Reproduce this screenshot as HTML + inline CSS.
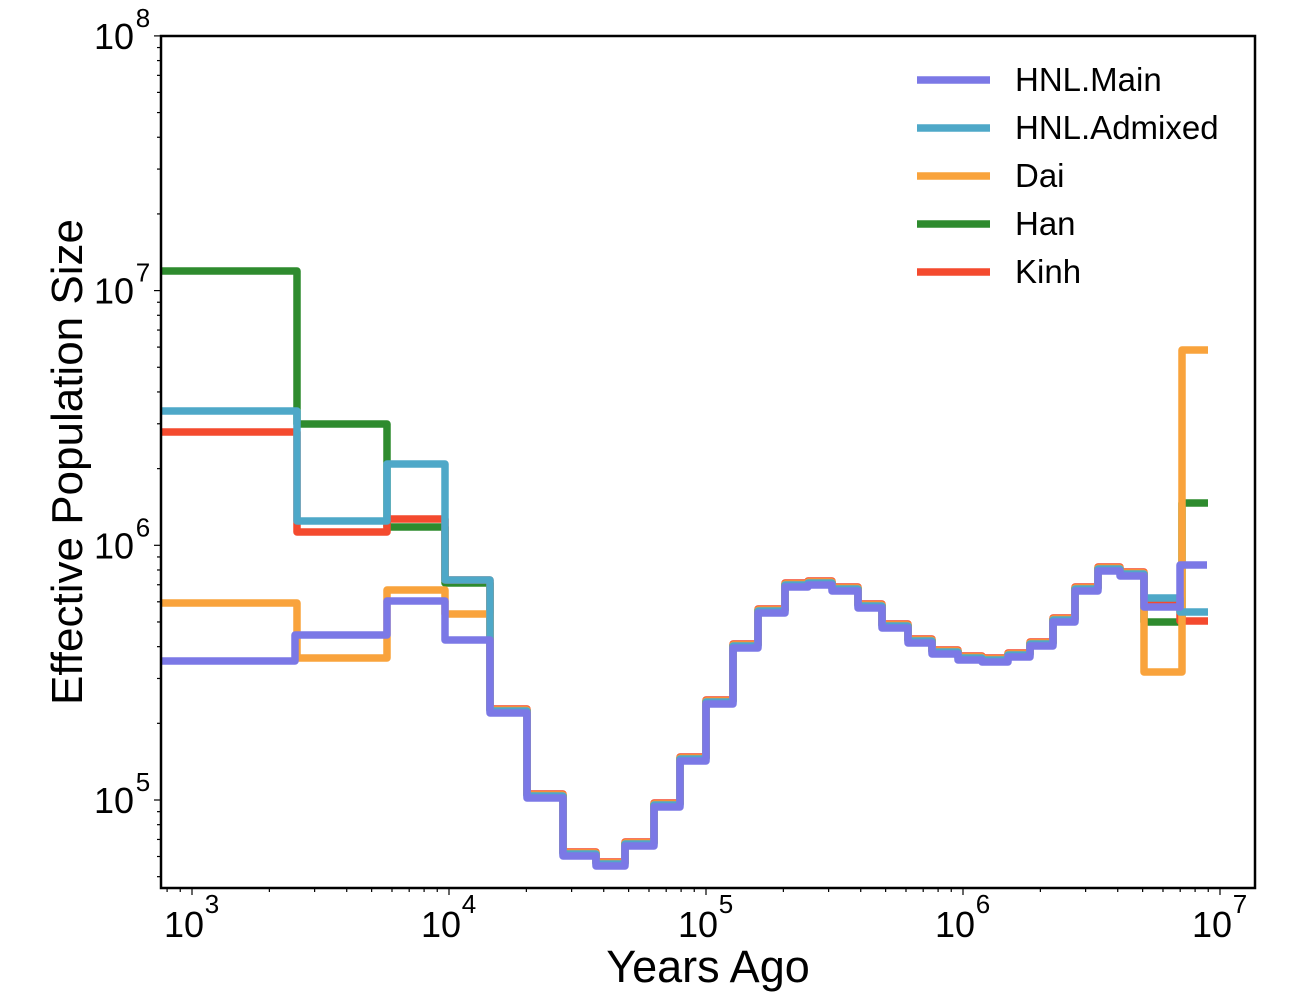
<!DOCTYPE html>
<html><head><meta charset="utf-8"><style>
body{margin:0;background:#fff;}
svg{display:block;font-family:"Liberation Sans",Arial,sans-serif;}
</style></head><body>
<svg id="s" width="1292" height="996" xmlns="http://www.w3.org/2000/svg"></svg>
<script>
const s=document.getElementById('s');
let h='';
const X=v=>192+257*(Math.log10(v)-3);
const Y=v=>800-254.7*(Math.log10(v)-5);
const L=161,R=1255,T=36,B=888;
for(let e=2;e<8;e++)for(let m=1;m<10;m++){const x=X(m*Math.pow(10,e));if(x<L||x>R)continue;
 h+=`<line x1="${x}" y1="${B}" x2="${x}" y2="${B+(m==1?7:4)}" stroke="#000" stroke-width="1.2"/>`;}
for(let e=4;e<9;e++)for(let m=1;m<10;m++){const y=Y(m*Math.pow(10,e));if(y<T-1||y>B)continue;
 h+=`<line x1="${L}" y1="${y}" x2="${L-(m==1?7:4)}" y2="${y}" stroke="#000" stroke-width="1.2"/>`;}
for(let e=3;e<=7;e++){const x=X(Math.pow(10,e));h+=`<text x="${x-8}" y="${937}" font-size="36" text-anchor="middle">10</text><text x="${x+20}" y="${913}" font-size="26" text-anchor="middle">${e}</text>`;}
for(let e=5;e<=8;e++){const y=Y(Math.pow(10,e));h+=`<text x="${134}" y="${y+13}" font-size="36" text-anchor="end">10</text><text x="${143}" y="${y-9}" font-size="26" text-anchor="middle">${e}</text>`;}
h+=`<text x="708" y="982" font-size="45" text-anchor="middle">Years Ago</text>`;
h+=`<text transform="translate(82,462) rotate(-90)" font-size="44" text-anchor="middle">Effective Population Size</text>`;
const mid=[[490,712],[527,797],[563,855],[596,865],[625,845],[654,806],[680,760],[706,703],[733,647],[758,612],[785,586],[808,584],[832,590],[858,607],[882,627],[908,642],[932,653],[958,659],[982,661],[1008,656],[1030,645],[1053,621],[1075,590],[1098,570],[1120,575]];
const mk=(head,tail,off)=>{let pts=[];const seg=head.concat(mid.map(p=>[p[0],p[1]+off])).concat(tail);
 for(let i=0;i<seg.length;i++){const [x,y]=seg[i];const nx=i+1<seg.length?seg[i+1][0]:null;
  pts.push([x,y]);if(nx!==null)pts.push([nx,y]);}
 return pts;};
const series=[
 ['#2e8b2e',[[161,271],[297,424],[387,527],[445,583]],[[1144,622],[1182,503],[1208,503]],-2],
 ['#f44a2e',[[161,432],[297,532],[387,519],[445,580]],[[1144,600],[1180,621],[1208,621]],-3],
 ['#f9a33c',[[161,603],[297,658],[387,590],[445,614]],[[1144,672],[1182,350],[1208,350]],-2],
 ['#4ea8c8',[[161,411],[297,521],[387,464],[445,580]],[[1144,598],[1180,612],[1208,612]],-1],
 ['#7b78e6',[[161,661],[295,635],[387,601],[445,640]],[[1144,607],[1180,565],[1207,565]],1]
];
h+=`<defs><clipPath id="c"><rect x="${L}" y="${T}" width="${R-L}" height="${B-T}"/></clipPath></defs><g clip-path="url(#c)">`;
for(const [c,hd,tl,o] of series){const p=mk(hd,tl,o);h+=`<polyline points="${p.map(q=>q.join(',')).join(' ')}" fill="none" stroke="${c}" stroke-width="7.5" stroke-linejoin="round"/>`;}
h+='</g>';
h+=`<rect x="${L}" y="${T}" width="${R-L}" height="${B-T}" fill="none" stroke="#000" stroke-width="2.5"/>`;
const leg=[['HNL.Main','#7b78e6'],['HNL.Admixed','#4ea8c8'],['Dai','#f9a33c'],['Han','#2e8b2e'],['Kinh','#f44a2e']];
leg.forEach((l,i)=>{const y=80+48*i;h+=`<line x1="917" y1="${y}" x2="990" y2="${y}" stroke="${l[1]}" stroke-width="7.5"/><text x="1015" y="${y+11}" font-size="33">${l[0]}</text>`;});
s.innerHTML=h;
</script>
</body></html>
